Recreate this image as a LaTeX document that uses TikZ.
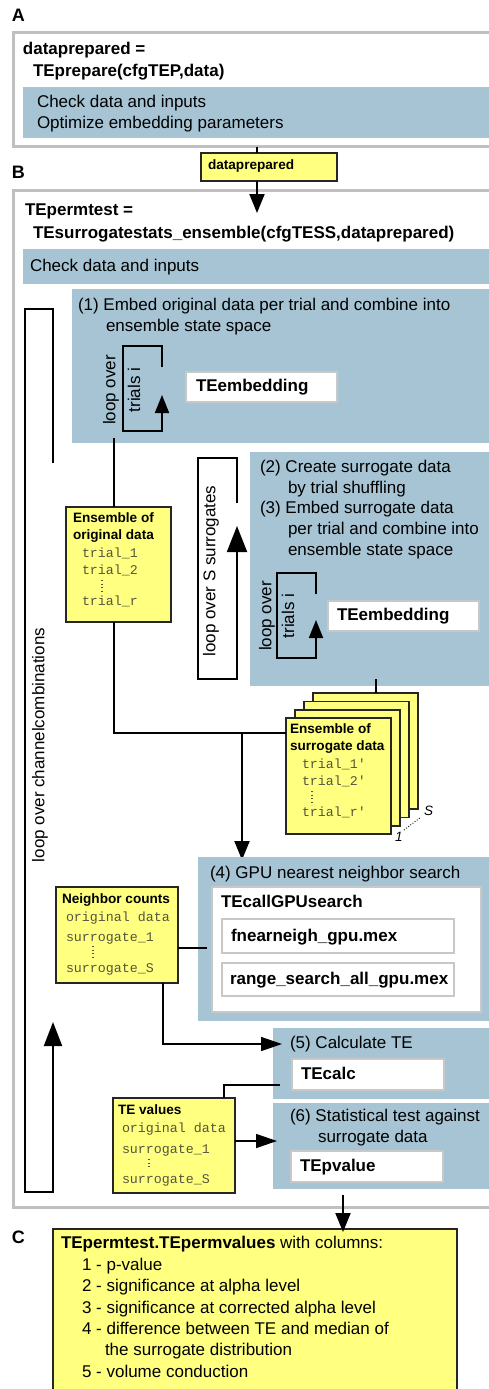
\documentclass[tikz,border=0pt]{standalone}
\usepackage{fontspec}
\setmainfont{Liberation Sans}
\setmonofont{Liberation Mono}
\usetikzlibrary{arrows.meta}
\definecolor{panelblue}{RGB}{166,196,212}
\definecolor{noteyellow}{RGB}{255,255,128}
\definecolor{framegray}{RGB}{192,192,192}
\definecolor{boxgray}{RGB}{200,200,200}
\definecolor{codeink}{RGB}{85,85,60}
\tikzset{
  lab/.style={anchor=base west, inner sep=0pt, outer sep=0pt},
  reg/.style={lab, font=\fontsize{17}{20}\selectfont},
  bld/.style={lab, font=\fontsize{17}{20}\selectfont\bfseries},
  hdr/.style={lab, font=\fontsize{13.6}{16}\selectfont\bfseries},
  code/.style={lab, font=\fontsize{13.3}{16}\selectfont\ttfamily, text=codeink},
  letter/.style={lab, font=\fontsize{18}{20}\selectfont\bfseries},
  idx/.style={lab, font=\fontsize{13.5}{15}\selectfont\itshape},
  vert/.style={anchor=center, inner sep=0pt, rotate=90, font=\fontsize{17}{20}\selectfont},
  frame/.style={anchor=north west, inner sep=0pt, outer sep=0pt, draw=framegray, line width=3pt},
  panel/.style={anchor=north west, inner sep=0pt, outer sep=0pt, fill=panelblue},
  func/.style={anchor=north west, inner sep=0pt, outer sep=0pt, fill=white, draw=boxgray, line width=2pt},
  note/.style={anchor=north west, inner sep=0pt, outer sep=0pt, fill=noteyellow, draw=black!85, line width=1.4pt},
  wire/.style={line width=1.3pt},
  flow/.style={line width=2pt, -{Triangle[length=19pt,width=15pt]}},
  sideflow/.style={line width=1.5pt, -{Triangle[length=21pt,width=14pt]}},
  loopline/.style={line width=2pt},
  vdots/.style={line width=1.3pt, codeink, dash pattern=on 1.3pt off 2.2pt},
}
\begin{document}
\begin{tikzpicture}[x=1pt,y=-1pt,line join=miter]
\useasboundingbox (0,0) rectangle (489,1389);
\clip (0,0) rectangle (489,1389);
\fill[white] (0,0) rectangle (489,1389);

% ---------------- Panel A ----------------
\node[letter] (letA) at (12,22) {A};
\node[frame, minimum width=481.5pt, minimum height=114pt] (frameA) at (13.5,32.5) {};
\node[bld] (callA1) at (23,55) {dataprepared =};
\node[bld] (callA2) at (33,77) {TEprepare(cfgTEP,data)};
\node[panel, minimum width=472pt, minimum height=51pt] (prep) at (23,87) {};
\node[reg] (prep1) at (37,107) {Check data and inputs};
\node[reg] (prep2) at (37,128) {Optimize embedding parameters};

% ---------------- Panel B ----------------
\node[letter] (letB) at (12,178.5) {B};
\node[frame, minimum width=481.5pt, minimum height=1017.5pt] (frameB) at (13.5,190) {};

% handover of the prepared data
\node[note, minimum width=136pt, minimum height=28pt] (dpbox) at (201,153) {};
\node[hdr] (dptext) at (208,169.5) {dataprepared};
\coordinate (aout) at (257,146.5);
\coordinate (bin) at (257,213);
\draw[line width=2pt] (aout) -- (aout |- dpbox.north);
\draw[flow] (aout |- dpbox.south) -- (bin);

\node[bld] (callB1) at (25,215) {TEpermtest =};
\node[bld] (callB2) at (33,238) {TEsurrogatestats\_ensemble(cfgTESS,dataprepared)};
\node[panel, minimum width=472pt, minimum height=35pt] (check) at (23,249) {};
\node[reg] (checkt) at (30,271.7) {Check data and inputs};

% step (1)
\node[panel, minimum width=423pt, minimum height=154pt] (step1) at (72,289) {};
\node[reg] (step1a) at (78,310) {(1) Embed original data per trial and combine into};
\node[reg] (step1b) at (106,331) {ensemble state space};
\node[func, minimum width=151pt, minimum height=30pt] (emb1) at (186,372) {};
\node[bld] (emb1t) at (196,391) {TEembedding};
\draw[loopline] (162,367) -- (162,346) -- (123,346) -- (123,431) -- (162,431) -- (162,413);
\draw[line width=2pt, -{Triangle[length=18pt,width=14pt]}] (162,420) -- (162,395);
\node[vert] (loop1a) at (111,390) {loop over};
\node[vert] (loop1b) at (134,390) {trials i};

% steps (2) and (3)
\node[panel, minimum width=245pt, minimum height=234pt] (step23) at (250,452) {};
\node[reg] (step2a) at (260,472) {(2) Create surrogate data};
\node[reg] (step2b) at (288,493) {by trial shuffling};
\node[reg] (step3a) at (260,513) {(3) Embed surrogate data};
\node[reg] (step3b) at (288,534) {per trial and combine into};
\node[reg] (step3c) at (288,555) {ensemble state space};
\node[func, minimum width=151pt, minimum height=30pt] (emb2) at (328,601) {};
\node[bld] (emb2t) at (337,620) {TEembedding};
\draw[loopline] (316,594) -- (316,573) -- (277,573) -- (277,658) -- (316,658) -- (316,640);
\draw[line width=2pt, -{Triangle[length=18pt,width=14pt]}] (316,645) -- (316,620);
\node[vert] (loop2a) at (267,616) {loop over};
\node[vert] (loop2b) at (288,616) {trials i};

% loop over surrogates
\draw[loopline] (237,503) -- (237,458) -- (198,458) -- (198,679) -- (237,679) -- (237,555);
\draw[line width=2pt, -{Triangle[length=26pt,width=20pt]}] (237,560) -- (237,526);
\node[vert] (loopS) at (211,571) {loop over S surrogates};

% loop over channel combinations
\draw[loopline] (53,463) -- (53,309) -- (25,309) -- (25,1192) -- (53,1192) -- (53,1040);
\draw[line width=2pt, -{Triangle[length=24pt,width=18pt]}] (53,1050) -- (53,1022);
\node[vert] (loopC) at (40,745) {loop over channelcombinations};

% ensemble of original data
\node[note, minimum width=105pt, minimum height=115pt] (ensorig) at (66,507) {};
\node[hdr] (eo1) at (73,522) {Ensemble of};
\node[hdr] (eo2) at (73,539) {original data};
\node[code] (eo3) at (82,557) {trial\_1};
\node[code] (eo4) at (82,574) {trial\_2};
\draw[vdots] (102,580) -- (102,593);
\node[code] (eo5) at (82,605) {trial\_r};
\coordinate (s1out) at (114,438);
\draw[wire] (s1out) -- (s1out |- ensorig.north);

% ensemble of surrogate data (stack of S)
\node[note, minimum width=105pt, minimum height=116pt] (surr3) at (313,693) {};
\node[note, minimum width=105pt, minimum height=116pt] (surr2) at (304,701.5) {};
\node[note, minimum width=105pt, minimum height=116pt] (surr1) at (295,710) {};
\node[note, minimum width=105pt, minimum height=116pt] (surr0) at (286,718) {};
\node[hdr] (es1) at (290,733) {Ensemble of};
\node[hdr] (es2) at (290,750) {surrogate data};
\node[code] (es3) at (302,768) {trial\_1'};
\node[code] (es4) at (302,785) {trial\_2'};
\draw[vdots] (312,791) -- (312,805);
\node[code] (es5) at (302,816) {trial\_r'};
\node[idx] (idx1) at (395,841) {1};
\node[idx] (idxS) at (424,815) {S};
\draw[line width=0.9pt, dash pattern=on 0.9pt off 1.8pt] (404,830) -- (421,817);
\coordinate (s23out) at (376,679);
\draw[wire] (s23out) -- (s23out |- surr3.north);

% both ensembles feed the neighbour search
\coordinate (join) at (114,733);
\coordinate (drop) at (242,733);
\coordinate (gpuin) at (242,860);
\draw[wire] (ensorig.south -| join) -- (join) -- (join -| surr0.west);
\draw[flow] (drop) -- (gpuin);

% step (4)
\node[panel, minimum width=297pt, minimum height=164pt] (step4) at (198,857) {};
\node[reg] (step4t) at (210,878) {(4) GPU nearest neighbor search};
\node[func, minimum width=269pt, minimum height=125pt] (gpu) at (212,887) {};
\node[bld] (gput) at (221,907) {TEcallGPUsearch};
\node[func, minimum width=232pt, minimum height=34pt] (fnn) at (222,919) {};
\node[bld] (fnnt) at (231,941) {fnearneigh\_gpu.mex};
\node[func, minimum width=232pt, minimum height=33pt] (rsa) at (222,963) {};
\node[bld] (rsat) at (230,984) {range\_search\_all\_gpu.mex};

% neighbour counts
\node[note, minimum width=122pt, minimum height=96pt] (nbr) at (56,887) {};
\node[hdr] (nb1) at (62,903) {Neighbor counts};
\node[code] (nb2) at (66,921) {original data};
\node[code] (nb3) at (66,941) {surrogate\_1};
\draw[vdots] (93,946) -- (93,957);
\node[code] (nb4) at (66,972) {surrogate\_S};
\coordinate (nbrlink) at (207,948);
\draw[wire] (nbr.east |- nbrlink) -- (nbrlink);

% step (5)
\node[panel, minimum width=222pt, minimum height=71pt] (step5) at (273,1028) {};
\node[reg] (step5t) at (290,1048) {(5) Calculate TE};
\node[func, minimum width=152pt, minimum height=31pt] (calc) at (292,1059) {};
\node[bld] (calct) at (301,1079) {TEcalc};
\coordinate (nbrdown) at (163,1044);
\coordinate (calcin) at (282,1044);
\draw[sideflow] (nbr.south -| nbrdown) -- (nbrdown) -- (calcin);

% step (6)
\node[panel, minimum width=222pt, minimum height=86pt] (step6) at (273,1103) {};
\node[reg] (step6a) at (290,1121) {(6) Statistical test against};
\node[reg] (step6b) at (318,1142) {surrogate data};
\node[func, minimum width=152pt, minimum height=31pt] (pval) at (291,1151) {};
\node[bld] (pvalt) at (300,1171) {TEpvalue};

% TE values
\node[note, minimum width=122pt, minimum height=95pt] (tev) at (113,1098) {};
\node[hdr] (tv1) at (118,1114) {TE values};
\node[code] (tv2) at (122,1132) {original data};
\node[code] (tv3) at (122,1153) {surrogate\_1};
\draw[vdots] (149,1159) -- (149,1169);
\node[code] (tv4) at (122,1183) {surrogate\_S};
\coordinate (tevup) at (224,1085);
\coordinate (calcout) at (280,1085);
\draw[wire] (tev.north -| tevup) -- (tevup) -- (calcout);
\coordinate (tevout) at (235,1141);
\coordinate (pvalin) at (277,1141);
\draw[sideflow] (tevout) -- (pvalin);

% ---------------- Panel C ----------------
\node[letter] (letC) at (12,1243) {C};
\node[note, minimum width=404pt, minimum height=170pt] (result) at (53,1229) {};
\coordinate (s6out) at (343,1195);
\draw[flow] (s6out) -- ([yshift=-3pt]s6out |- result.north);
\node[reg] (res0) at (61,1248) {\textbf{TEpermtest.TEpermvalues} with columns:};
\node[reg] (res1) at (82,1270) {1 - p-value};
\node[reg] (res2) at (82,1291) {2 - significance at alpha level};
\node[reg] (res3) at (82,1313) {3 - significance at corrected alpha level};
\node[reg] (res4) at (82,1334) {4 - difference between TE and median of};
\node[reg] (res4b) at (105,1355) {the surrogate distribution};
\node[reg] (res5) at (82,1377) {5 - volume conduction};
\end{tikzpicture}
\end{document}
